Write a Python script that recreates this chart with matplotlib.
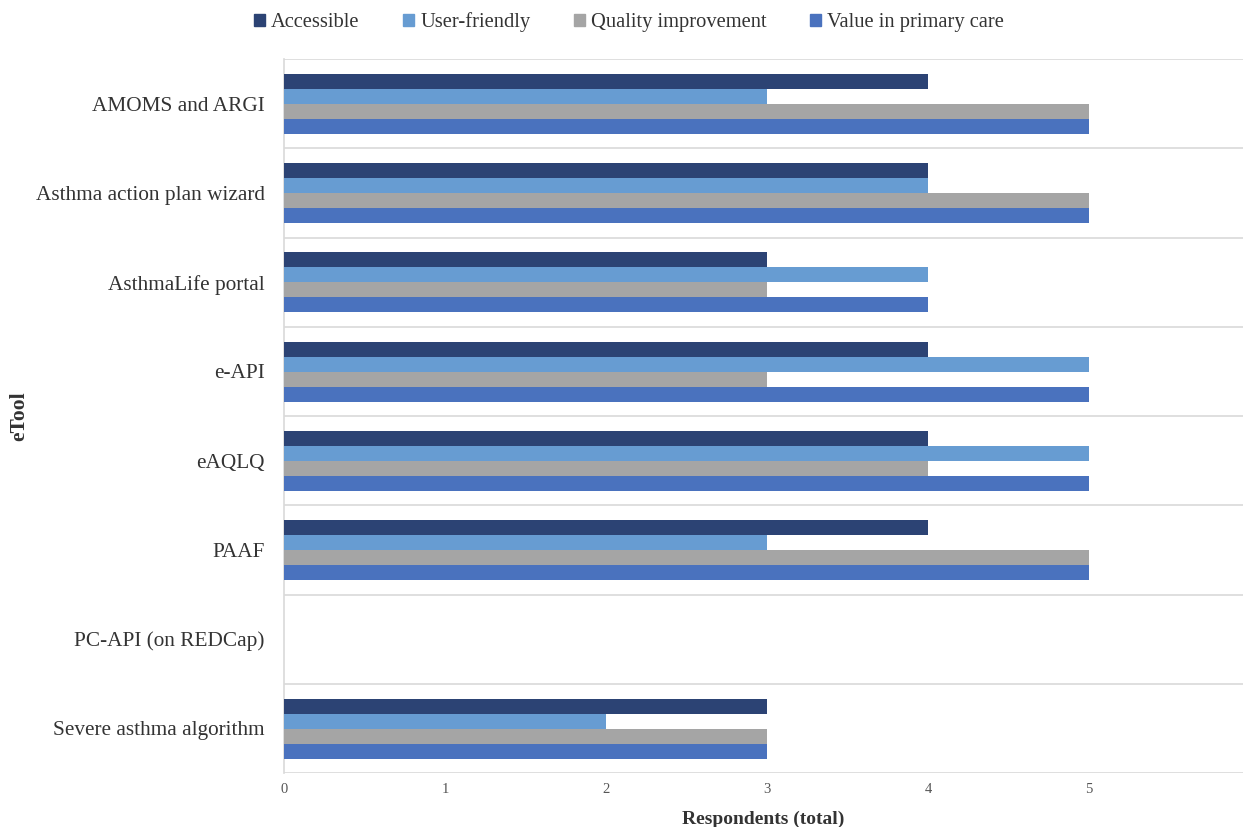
import numpy as np
import matplotlib.pyplot as plt
from matplotlib.patches import Patch

tools = ['AMOMS and ARGI', 'Asthma action plan wizard', 'AsthmaLife portal',
         'e-API', 'eAQLQ', 'PAAF', 'PC-API (on REDCap)', 'Severe asthma algorithm']
series = ['Accessible', 'User-friendly', 'Quality improvement', 'Value in primary care']
accessible = [4, 4, 3, 4, 4, 4, 0, 3]
user_friendly = [3, 4, 4, 5, 5, 3, 0, 2]
quality = [5, 5, 3, 3, 4, 5, 0, 3]
value_pc = [5, 5, 4, 5, 5, 5, 0, 3]
colors = ['#2C4374', '#679CD2', '#A5A5A5', '#4A72BE']

plt.rcParams['font.family'] = ['Liberation Serif', 'DejaVu Serif']

fig = plt.figure(figsize=(12.43, 8.27), dpi=100)
ax = fig.add_axes([284 / 1243, 1 - 773 / 827, 1 - 284 / 1243, (773 - 59) / 827])

bar_h = 0.168
pos = np.arange(len(tools))
start = 0.168
for k, (vals, c) in enumerate(zip([accessible, user_friendly, quality, value_pc], colors)):
    ax.barh(pos + start + bar_h * (k + 0.5), vals, height=bar_h, color=c,
            linewidth=0, zorder=3)

ax.set_ylim(len(tools), 0)
ax.set_xlim(0, (1243 - 284) / 161)
ax.set_yticks(pos + 0.5)
ax.set_yticklabels(tools, fontsize=15.3, color='#333333')
ax.set_yticks(np.arange(len(tools) + 1), minor=True)
ax.set_xticks(range(6))
ax.tick_params(axis='x', length=0, labelsize=10.5, colors='#555555', pad=7)
ax.tick_params(axis='y', which='both', length=0, pad=14)
ax.grid(axis='y', which='minor', color='#D9D9D9', linewidth=1.2, zorder=0)
for s in ['top', 'right', 'bottom']:
    ax.spines[s].set_visible(False)
ax.spines['left'].set_color('#D9D9D9')
ax.spines['left'].set_linewidth(1.2)

ax.set_xlabel('Respondents (total)', fontsize=14, fontweight='bold', color='#333333', labelpad=11)
ax.set_ylabel('eTool', fontsize=15.5, fontweight='bold', color='#333333', labelpad=0)
ax.yaxis.set_label_coords(-(284 - 29) / 959, 0.5)

handles = [Patch(facecolor=c, edgecolor=c) for c in colors]
fig.legend(handles, series, loc='center', bbox_to_anchor=(0.506, 0.973), ncol=4,
           frameon=False, fontsize=14.8, handlelength=0.55, handleheight=0.55,
           handletextpad=0.3, columnspacing=2.1, labelcolor='#333333')

fig.savefig('out.png', dpi=100)
